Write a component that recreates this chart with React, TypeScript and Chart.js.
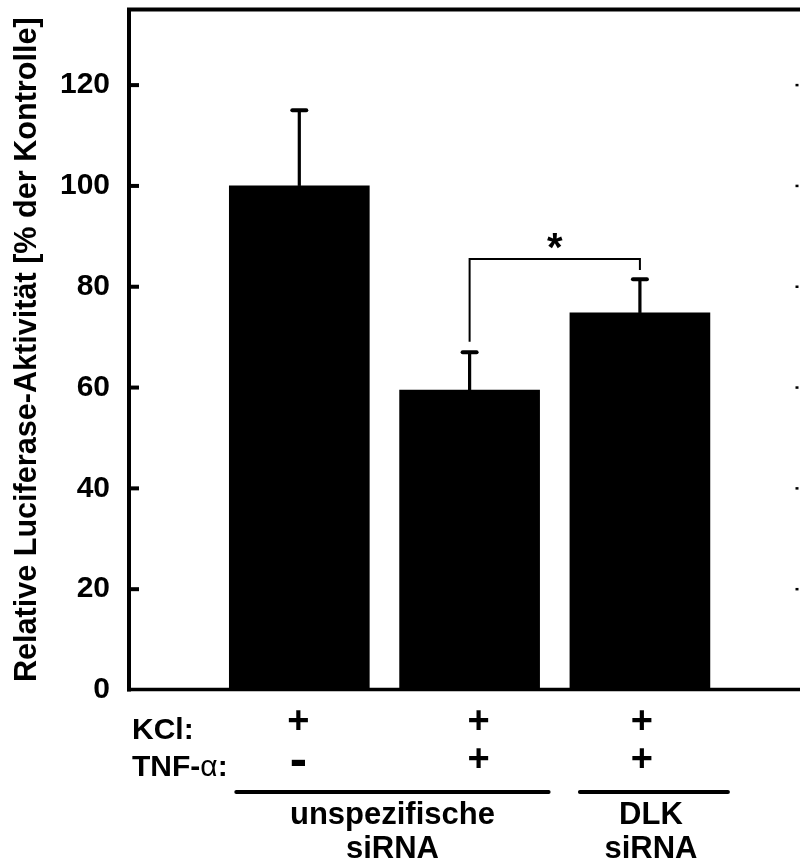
import { useEffect, useRef } from 'react';
import { Chart, registerables } from 'chart.js';

Chart.register(...registerables);

// Luciferase reporter assay: mean activity (% of control) with upper SEM
const categories = ['KCl', 'KCl + TNF-α', 'KCl + TNF-α, DLK siRNA'];
const barPositions = [1, 2, 3];
const meanValues = [100, 59.5, 74.8];
const errorTops = [115, 67, 81.5];
const yTickValues = [0, 20, 40, 60, 80, 100, 120];
const kclRow = ['+', '+', '+'];
const tnfRow = ['-', '+', '+'];
const groupLabels = [['unspezifische', 'siRNA'], ['DLK', 'siRNA']];
// significance bracket between bar 2 and bar 3 (values in % units)
const bracketValues = { level: 85.5, leftEnd: 69.1, rightEnd: 83.3 };
const bracketMark = '*';

const FONT = '"Liberation Sans", Arial, Helvetica, sans-serif';

const annotations = {
  id: 'annotations',
  afterDraw(chart: any) {
    const { ctx, chartArea: a, scales } = chart;
    const xs = scales.x;
    const ys = scales.y;
    ctx.save();
    ctx.strokeStyle = '#000';
    ctx.fillStyle = '#000';

    // frame: top border, left axis, bottom axis
    ctx.lineCap = 'butt';
    ctx.lineWidth = 4;
    ctx.beginPath();
    ctx.moveTo(a.left - 2, a.top);
    ctx.lineTo(a.right, a.top);
    ctx.moveTo(a.left, a.top - 2);
    ctx.lineTo(a.left, a.bottom + 1.5);
    ctx.stroke();
    ctx.lineWidth = 3.5;
    ctx.beginPath();
    ctx.moveTo(a.left - 2, a.bottom - 0.5);
    ctx.lineTo(a.right, a.bottom - 0.5);
    ctx.stroke();

    // inward tick marks on left, small marks on right edge
    yTickValues.forEach((v) => {
      const py = ys.getPixelForValue(v);
      if (v === 0) return;
      ctx.lineWidth = 4;
      ctx.beginPath();
      ctx.moveTo(a.left, py);
      ctx.lineTo(a.left + 10, py);
      ctx.stroke();
      ctx.lineWidth = 2.5;
      ctx.beginPath();
      ctx.moveTo(a.right - 4.5, py);
      ctx.lineTo(a.right - 1.5, py);
      ctx.stroke();
    });

    // error bars (upper only)
    barPositions.forEach((pos, i) => {
      const cx = xs.getPixelForValue(pos);
      const base = ys.getPixelForValue(meanValues[i]);
      const top = ys.getPixelForValue(errorTops[i]);
      ctx.lineCap = 'butt';
      ctx.lineWidth = 3.2;
      ctx.beginPath();
      ctx.moveTo(cx, base);
      ctx.lineTo(cx, top);
      ctx.stroke();
      ctx.lineCap = 'round';
      ctx.lineWidth = 4;
      ctx.beginPath();
      ctx.moveTo(cx - 7, top);
      ctx.lineTo(cx + 7, top);
      ctx.stroke();
    });

    // significance bracket
    const bx1 = xs.getPixelForValue(barPositions[1]);
    const bx2 = xs.getPixelForValue(barPositions[2]);
    const by = ys.getPixelForValue(bracketValues.level);
    ctx.lineCap = 'butt';
    ctx.lineJoin = 'miter';
    ctx.lineWidth = 2;
    ctx.beginPath();
    ctx.moveTo(bx1, ys.getPixelForValue(bracketValues.leftEnd));
    ctx.lineTo(bx1, by);
    ctx.lineTo(bx2, by);
    ctx.lineTo(bx2, ys.getPixelForValue(bracketValues.rightEnd));
    ctx.stroke();
    ctx.font = `bold 40px ${FONT}`;
    ctx.textAlign = 'center';
    ctx.textBaseline = 'alphabetic';
    ctx.fillText(bracketMark, (bx1 + bx2) / 2, by + 2);

    // treatment rows below the axis
    const colShift = [-1, 9, 2];
    const rowLeft = a.left + 3;
    ctx.textAlign = 'left';
    ctx.font = `bold 30px ${FONT}`;
    ctx.fillText('KCl:', rowLeft, 739);
    let tx = rowLeft;
    ctx.fillText('TNF-', tx, 776);
    tx += ctx.measureText('TNF-').width;
    ctx.font = `30px ${FONT}`;
    ctx.fillText('α', tx, 776);
    tx += ctx.measureText('α').width;
    ctx.font = `bold 30px ${FONT}`;
    ctx.fillText(':', tx, 776);

    ctx.textAlign = 'center';
    const drawSign = (s: string, cx: number, rowBase: number) => {
      if (s === '+') {
        ctx.font = `bold 38px ${FONT}`;
        ctx.fillText(s, cx, rowBase);
      } else {
        ctx.font = `bold 52px ${FONT}`;
        ctx.fillText(s, cx, rowBase + 5);
      }
    };
    barPositions.forEach((pos, i) => {
      const cx = xs.getPixelForValue(pos) + colShift[i];
      drawSign(kclRow[i], cx, 733);
      drawSign(tnfRow[i], cx, 771);
    });

    // siRNA group lines and labels
    const spans = [
      [xs.getPixelForValue(barPositions[0]) - 63, xs.getPixelForValue(barPositions[1]) + 79],
      [xs.getPixelForValue(barPositions[2]) - 60, xs.getPixelForValue(barPositions[2]) + 88],
    ];
    const labelShift = [0, -3];
    ctx.lineCap = 'round';
    ctx.lineWidth = 4;
    ctx.font = `bold 31px ${FONT}`;
    spans.forEach(([l, r], g) => {
      ctx.beginPath();
      ctx.moveTo(l, 792);
      ctx.lineTo(r, 792);
      ctx.stroke();
      const mid = (l + r) / 2 + labelShift[g];
      ctx.fillText(groupLabels[g][0], mid, 824);
      ctx.fillText(groupLabels[g][1], mid, 858);
    });

    ctx.restore();
  },
};

export default function App() {
  const ref = useRef<HTMLCanvasElement | null>(null);

  useEffect(() => {
    if (!ref.current) return;
    const chart = new Chart(ref.current, {
      type: 'bar',
      data: {
        labels: categories,
        datasets: [
          {
            data: barPositions.map((x, i) => ({ x, y: meanValues[i] })),
            backgroundColor: '#000',
            borderWidth: 0,
            barThickness: 140,
          },
        ],
      },
      options: {
        animation: false,
        responsive: false,
        devicePixelRatio: 1,
        layout: { padding: { top: 9.5, left: 0, right: 0, bottom: 0 } },
        plugins: { legend: { display: false }, tooltip: { enabled: false } },
        scales: {
          x: {
            type: 'linear',
            min: 0,
            max: 3.94,
            offset: false,
            grid: { display: false, drawTicks: false },
            border: { display: false },
            ticks: { display: false },
            afterFit: (s: any) => {
              s.height = 171;
              s.paddingLeft = 0;
              s.paddingRight = 0;
            },
          },
          y: {
            min: 0,
            max: 135,
            grid: { display: false, drawTicks: false, tickLength: 0 },
            border: { display: false },
            afterBuildTicks: (s: any) => {
              s.ticks = yTickValues.map((v) => ({ value: v }));
            },
            ticks: {
              stepSize: 20,
              color: '#000',
              padding: 19,
              font: { family: FONT, size: 30, weight: 'bold' },
            },
            title: {
              display: true,
              text: 'Relative Luciferase-Aktivität [% der Kontrolle]',
              color: '#000',
              font: { family: FONT, size: 30.6, weight: 'bold' },
              padding: { top: 9, bottom: 0 },
            },
            afterFit: (s: any) => {
              s.width = 129;
              s.paddingTop = 0;
              s.paddingBottom = 0;
            },
          },
        },
      },
      plugins: [annotations],
    } as any);
    return () => chart.destroy();
  }, []);

  return (
    <div style={{ position: 'absolute', left: 0, top: 0, width: 800, height: 861, background: '#fff' }}>
      <canvas ref={ref} width={800} height={861} style={{ display: 'block' }} />
    </div>
  );
}
